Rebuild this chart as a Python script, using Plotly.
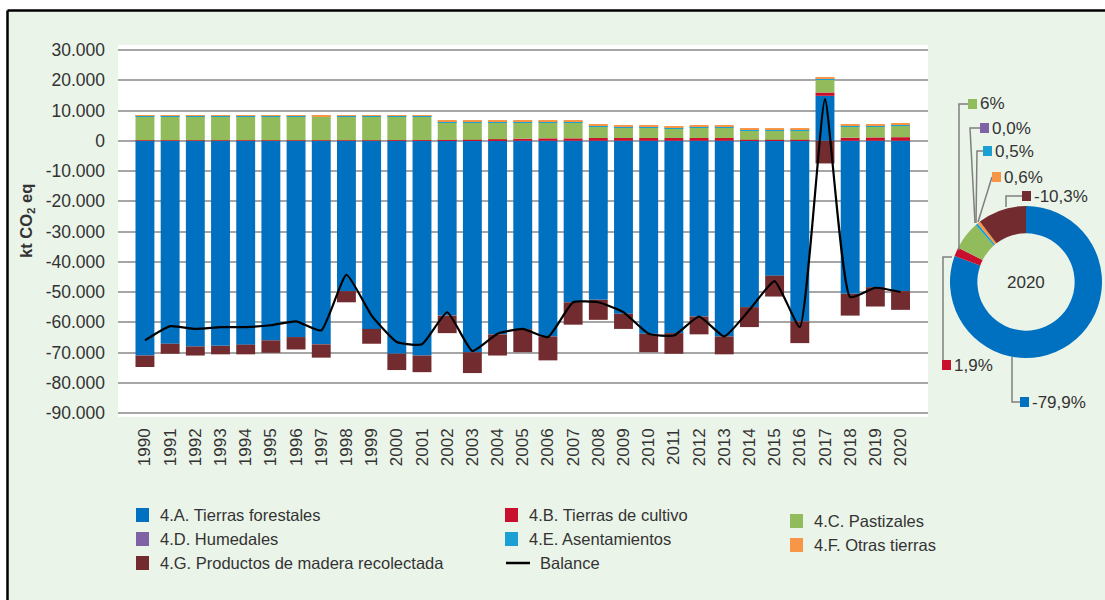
import plotly.graph_objects as go

# datos (kt CO2 eq)
years = list(range(1990, 2021))

forestales = [-71000, -67100, -68000, -67800, -67400, -66000, -64900, -67300, -49700, -62200,
              -70400, -71000, -57800, -69900, -64000, -62300, -64700, -53400, -52600, -57200,
              -63800, -63600, -58100, -64700, -55000, -44600, -59700, 14850, -50600, -48400,
              -49700]
cultivo = [150, 150, 150, 150, 150, 150, 150, 150, 150, 150,
           200, 200, 250, 300, 500, 700, 800, 800, 900, 900,
           900, 900, 900, 900, 300, 300, 300, 1100, 1000, 1100,
           1180]
pastizales = [7800, 7800, 7800, 7800, 7800, 7800, 7800, 7700, 7800, 7800,
              7750, 7750, 5750, 5700, 5500, 5300, 5200, 5200, 3900, 3500,
              3500, 3300, 3400, 3400, 3100, 3100, 3100, 4400, 3600, 3500,
              3730]
humedales = [0, 0, 0, 0, 0, 0, 0, 0, 0, 0,
             0, 0, 0, 0, 0, 0, 0, 0, 0, 0,
             0, 0, 0, 0, 0, 0, 0, 0, 0, 0,
             0]
asentamientos = [250, 250, 250, 250, 250, 250, 250, 250, 250, 250,
                 250, 250, 280, 280, 280, 280, 280, 280, 280, 280,
                 280, 280, 280, 280, 310, 310, 310, 300, 310, 310,
                 310]
otras = [80, 80, 80, 80, 80, 80, 80, 200, 80, 80,
         80, 80, 300, 300, 300, 300, 300, 300, 350, 350,
         350, 350, 350, 350, 350, 350, 350, 400, 370, 370,
         370]
madera = [-3800, -3300, -3000, -2800, -3200, -4100, -4100, -4400, -3700, -4900,
          -5400, -5500, -5800, -6900, -7000, -7600, -7900, -7400, -6600, -5000,
          -6100, -6800, -5900, -5900, -6600, -6900, -7200, -7500, -7200, -6400,
          -6200]
balance = [-66000, -61300, -62200, -61600, -61600, -61000, -59700, -62700, -44300, -57800,
           -66500, -67300, -56700, -69500, -63800, -62200, -64900, -53400, -53400, -56700,
           -63800, -64400, -58100, -64700, -55900, -46400, -61600, 13750, -51700, -48600,
           -50000]

# donut 2020 (%)
pie_values = [79.9, 1.9, 6.0, 0.0, 0.5, 0.6, 10.3]
pie_text = ["-79,9%", "1,9%", "6%", "0,0%", "0,5%", "0,6%", "-10,3%"]

labels = ["4.A. Tierras forestales", "4.B. Tierras de cultivo", "4.C. Pastizales",
          "4.D. Humedales", "4.E. Asentamientos", "4.F. Otras tierras",
          "4.G. Productos de madera recolectada"]
colors = ["#0070C0", "#C8102E", "#92BB5C", "#7F62A6", "#1AA0D2", "#F79646", "#722B2E"]

y_ticks = [30000, 20000, 10000, 0, -10000, -20000, -30000, -40000, -50000,
           -60000, -70000, -80000, -90000]

FONT = "Liberation Sans, Arial, sans-serif"
TXT = "#333333"
BG = "#EBF4E9"

W, H = 1105, 600
ML, MR, MT, MB = 118, 0, 45, 183
PW, PH = W - ML - MR, H - MT - MB


def px(x):
    return (x - ML) / PW


def py(y):
    return (H - MB - y) / PH


fig = go.Figure()

series = [forestales, cultivo, pastizales, humedales, asentamientos, otras, madera]
for name, vals, col in zip(labels, series, colors):
    fig.add_trace(go.Bar(x=years, y=vals, name=name, marker=dict(color=col, line_width=0),
                         showlegend=False))

fig.add_trace(go.Scatter(x=years, y=balance, name="Balance", mode="lines",
                         line=dict(color="black", width=2.2, shape="spline", smoothing=0.45),
                         showlegend=False))

fig.add_trace(go.Pie(values=pie_values, labels=labels, sort=False, direction="clockwise",
                     rotation=0, hole=0.64, textinfo="none", showlegend=False,
                     marker=dict(colors=colors, line=dict(width=0)),
                     domain=dict(x=[px(950), px(1102)], y=[py(358), py(206)])))

fig.update_layout(
    width=W, height=H,
    margin=dict(l=ML, r=MR, t=MT, b=MB),
    barmode="relative", bargap=0.25,
    paper_bgcolor=BG, plot_bgcolor="white",
    font=dict(family=FONT, color=TXT),
    xaxis=dict(domain=[0, px(928)], range=[1988.93, 2021.09],
               tickvals=years, ticktext=[str(y) for y in years], tickangle=-90,
               tickfont=dict(size=17, color=TXT), showgrid=False, zeroline=False,
               ticks="", ticklabelstandoff=7),
    yaxis=dict(range=[-91322, 31653], tickvals=y_ticks,
               ticktext=[f"{v:,}".replace(",", ".") for v in y_ticks],
               tickfont=dict(size=17.5, color=TXT), gridcolor="#A6A6A6", gridwidth=2,
               zeroline=True, zerolinecolor="#A6A6A6", zerolinewidth=2,
               ticks="", ticklabelstandoff=12),
)

shapes = []
annotations = []


def note(x, y, text, size, **kw):
    d = dict(x=px(x), y=py(y), xref="paper", yref="paper", text=text, showarrow=False,
             yanchor="middle", font=dict(size=size, color=TXT))
    d.update(kw)
    annotations.append(d)


# marco exterior
shapes.append(dict(type="rect", xref="paper", yref="paper", x0=px(0), x1=px(W), y0=py(10), y1=py(0),
                   fillcolor="white", line_width=0))
shapes.append(dict(type="rect", xref="paper", yref="paper", x0=px(0), x1=px(7), y0=py(H), y1=py(0),
                   fillcolor="white", line_width=0))
shapes.append(dict(type="line", xref="paper", yref="paper", x0=px(7.5), x1=px(W), y0=py(10.5), y1=py(10.5),
                   line=dict(color="black", width=2.5)))
shapes.append(dict(type="line", xref="paper", yref="paper", x0=px(7.5), x1=px(7.5), y0=py(10.5), y1=py(H),
                   line=dict(color="black", width=2.5)))

# título eje y
note(27, 221, "<b>kt CO<sub>2</sub> eq</b>", 16.5, textangle=-90, xanchor="center")

# etiquetas del donut
note(1026, 282, "2020", 17, xanchor="center")

pie_pos = [(1020, 402), (942, 365), (968, 104), (980, 128), (983, 151), (992, 177), (1022, 196)]
leaders = [
    [(1012, 357), (1012, 402), (1020, 402)],
    [(952, 257), (943, 257), (943, 360)],
    [(968, 104), (959, 104), (959, 250)],
    [(980, 128), (970, 128), (975, 223)],
    [(983, 151), (977, 151), (976, 223)],
    [(992, 177), (978, 222)],
    [(1022, 196), (1006, 196), (1006, 207)],
]
for pts in leaders:
    path = "M " + " L ".join(f"{px(x)},{py(y)}" for x, y in pts)
    shapes.append(dict(type="path", xref="paper", yref="paper", path=path,
                       line=dict(color="#7F7F7F", width=1.5)))
for (x, y), t, col in zip(pie_pos, pie_text, colors):
    shapes.append(dict(type="rect", xref="paper", yref="paper", x0=px(x), x1=px(x + 9),
                       y0=py(y + 5), y1=py(y - 5), fillcolor=col, line_width=0))
    note(x + 10, y, t, 17, xanchor="left")

# leyenda manual
legend_pos = [(136, 515), (505, 515), (790, 521), (136, 539), (505, 539), (790, 545), (136, 563)]
for (x, y), name, col in zip(legend_pos, labels, colors):
    shapes.append(dict(type="rect", xref="paper", yref="paper", x0=px(x), x1=px(x + 13),
                       y0=py(y + 7), y1=py(y - 7), fillcolor=col, line_width=0))
    note(x + 22, y, name, 16.5, xanchor="left")
shapes.append(dict(type="line", xref="paper", yref="paper", x0=px(506), x1=px(530), y0=py(563), y1=py(563),
                   line=dict(color="black", width=2.5)))
note(538, 563, "Balance", 16.5, xanchor="left")

fig.update_layout(shapes=shapes, annotations=annotations)

fig.write_html("out.html", config={"displayModeBar": False},
               post_script="document.body.style.margin='0px';")
